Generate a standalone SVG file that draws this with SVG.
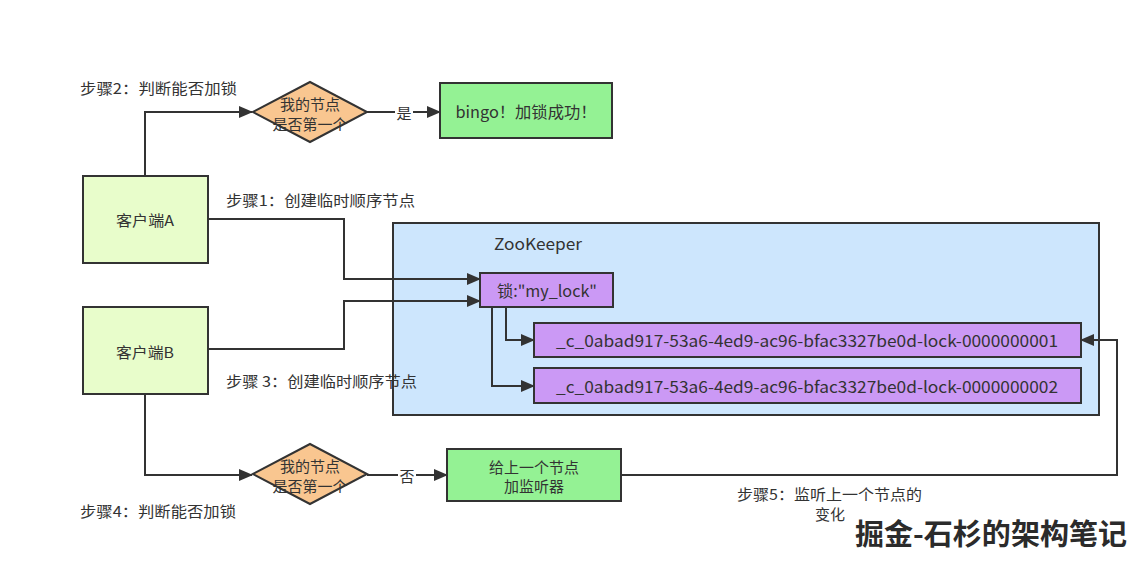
<svg xmlns="http://www.w3.org/2000/svg" width="1131" height="568" viewBox="0 0 1131 568">
<defs>
<marker id="arr" markerUnits="userSpaceOnUse" markerWidth="14" markerHeight="12" refX="13" refY="6" orient="auto">
<path d="M0,0 L14,6 L0,12 z" fill="#333"/>
</marker>
<style>
text{font-family:"Noto Sans CJK SC","Noto Sans",sans-serif;fill:#333;}
.box{stroke:#333;stroke-width:2;}
.client{fill:#E8FDCB;}
.green{fill:#94F294;}
.dia{fill:#F9C690;}
.purple{fill:#CB99F5;}
.zk{fill:#CDE6FD;stroke:#333;stroke-width:2;}
.c{font-size:15px;text-anchor:middle;dominant-baseline:central;}
.lbl{font-size:15px;dominant-baseline:central;}
.conn path{fill:none;stroke:#333;stroke-width:2;}
</style>
</defs>
<rect width="1131" height="568" fill="#fff"/>

<g id="zookeeper">
<rect class="zk" x="393" y="223" width="706" height="192"/>
<text x="494" y="243" style="font-size:16px;dominant-baseline:central" textLength="88" lengthAdjust="spacingAndGlyphs">ZooKeeper</text>
</g>

<g class="conn" id="connectors">
<path d="M145,176 V112 H252" marker-end="url(#arr)"/>
<path d="M367,112 H440" marker-end="url(#arr)"/>
<path d="M208,219 H344 V279 H480" marker-end="url(#arr)"/>
<path d="M208,349 H344 V301 H480" marker-end="url(#arr)"/>
<path d="M506,307 V340 H534" marker-end="url(#arr)"/>
<path d="M492,307 V386 H534" marker-end="url(#arr)"/>
<path d="M145,394 V475 H252" marker-end="url(#arr)"/>
<path d="M367,475 H447" marker-end="url(#arr)"/>
<path d="M621,475 H1117 V340 H1081" marker-end="url(#arr)"/>
<rect x="395" y="103" width="18" height="18" fill="#fff"/>
<text class="c" x="404" y="112">是</text>
<rect x="398" y="466" width="18" height="18" fill="#fff"/>
<text class="c" x="407" y="475">否</text>
</g>

<g id="clientA">
<rect class="box client" x="83" y="176" width="125" height="87"/>
<text class="c" x="145" y="219" textLength="58" lengthAdjust="spacingAndGlyphs">客户端A</text>
</g>
<g id="clientB">
<rect class="box client" x="83" y="307" width="125" height="87"/>
<text class="c" x="145" y="351" textLength="58" lengthAdjust="spacingAndGlyphs">客户端B</text>
</g>

<g id="decision1">
<polygon class="box dia" points="253,112 310,82 367,112 310,142"/>
<text class="c" x="310" y="103">我的节点</text>
<text class="c" x="310" y="123">是否第一个</text>
</g>
<g id="bingo">
<rect class="box green" x="440" y="83" width="172" height="55"/>
<text class="c" x="526" y="111" style="font-size:16px" textLength="141" lengthAdjust="spacingAndGlyphs">bingo！加锁成功！</text>
</g>

<g id="decision2">
<polygon class="box dia" points="253,474 310,444 367,474 310,504"/>
<text class="c" x="310" y="465">我的节点</text>
<text class="c" x="310" y="485">是否第一个</text>
</g>
<g id="listener">
<rect class="box green" x="447" y="449" width="174" height="52"/>
<text class="c" x="534" y="466">给上一个节点</text>
<text class="c" x="534" y="485">加监听器</text>
</g>

<g id="lock">
<rect class="box purple" x="480" y="273" width="133" height="34"/>
<text class="c" x="547" y="290" style="font-size:16px" textLength="100" lengthAdjust="spacingAndGlyphs">锁:"my_lock"</text>
</g>
<g id="node1">
<rect class="box purple" x="534" y="323" width="547" height="34"/>
<text class="c" x="807" y="340" style="font-size:16px" textLength="502" lengthAdjust="spacingAndGlyphs">_c_0abad917-53a6-4ed9-ac96-bfac3327be0d-lock-0000000001</text>
</g>
<g id="node2">
<rect class="box purple" x="534" y="368" width="547" height="35"/>
<text class="c" x="807" y="386" style="font-size:16px" textLength="502" lengthAdjust="spacingAndGlyphs">_c_0abad917-53a6-4ed9-ac96-bfac3327be0d-lock-0000000002</text>
</g>

<g id="labels">
<text class="lbl" x="80" y="87" textLength="157" lengthAdjust="spacingAndGlyphs">步骤2：判断能否加锁</text>
<text class="lbl" x="226" y="199" textLength="189" lengthAdjust="spacingAndGlyphs">步骤1：创建临时顺序节点</text>
<text class="lbl" x="226" y="380" textLength="191" lengthAdjust="spacingAndGlyphs">步骤 3：创建临时顺序节点</text>
<text class="lbl" x="80" y="510" textLength="156" lengthAdjust="spacingAndGlyphs">步骤4：判断能否加锁</text>
<text class="lbl" x="737" y="493" textLength="185" lengthAdjust="spacingAndGlyphs">步骤5：监听上一个节点的</text>
<text class="c" x="830" y="513">变化</text>
<text x="855" y="545" style="font-size:29px;font-weight:bold;fill:#2b2b2b;font-family:'Noto Sans CJK SC','Liberation Serif',serif" textLength="272" lengthAdjust="spacingAndGlyphs">掘金-石杉的架构笔记</text>
</g>
</svg>
